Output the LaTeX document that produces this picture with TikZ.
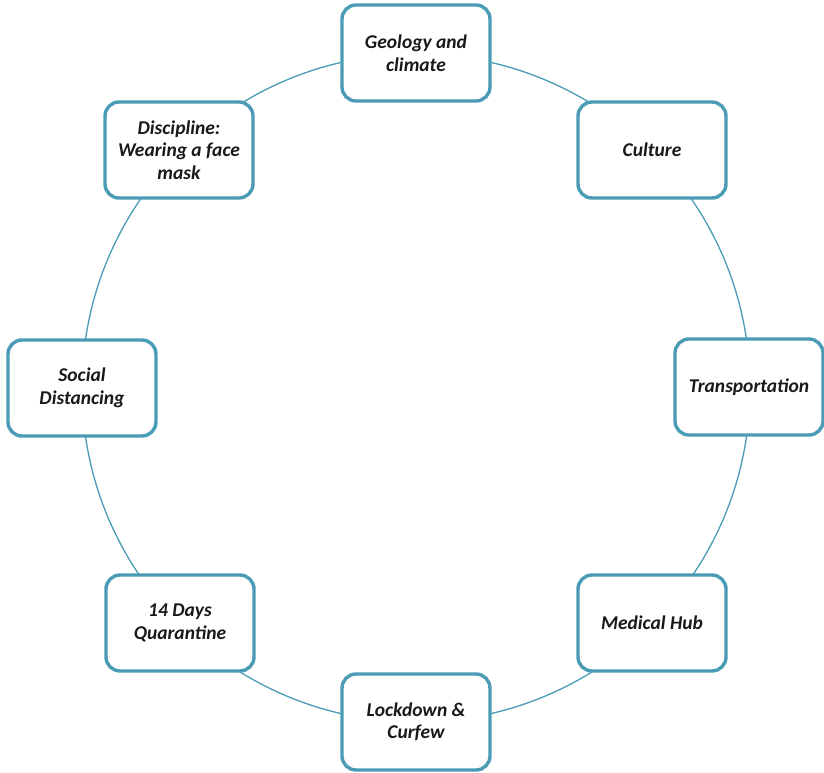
\documentclass[tikz,border=0pt]{standalone}
\usepackage{fontspec}
\setmainfont{Carlito}
\definecolor{ring}{HTML}{4A9BB5}
\begin{document}
\begin{tikzpicture}[x=1pt,y=-1pt,
  item/.style={draw=ring, line width=3.4pt, fill=white, rounded corners=14pt,
    minimum width=148pt, minimum height=96pt, align=center,
    font=\fontsize{19.5}{22.5}\selectfont\bfseries\itshape, text=black!90}]
\useasboundingbox (0,0) rectangle (824,773);
\draw[ring, line width=1.3pt] (416,388) circle (334);
\node[item] (geo) at (416,53) {Geology and\\climate};
\node[item] (cul) at (652,150) {Culture};
\node[item] (tra) at (749,387) {Transportation};
\node[item] (med) at (652,623) {Medical Hub};
\node[item] (loc) at (416,722) {Lockdown \&\\Curfew};
\node[item] (qua) at (180,623) {14 Days\\Quarantine};
\node[item] (soc) at (82,388) {Social\\Distancing};
\node[item] (dis) at (179,150) {Discipline:\\Wearing a face\\mask};
\end{tikzpicture}
\end{document}
